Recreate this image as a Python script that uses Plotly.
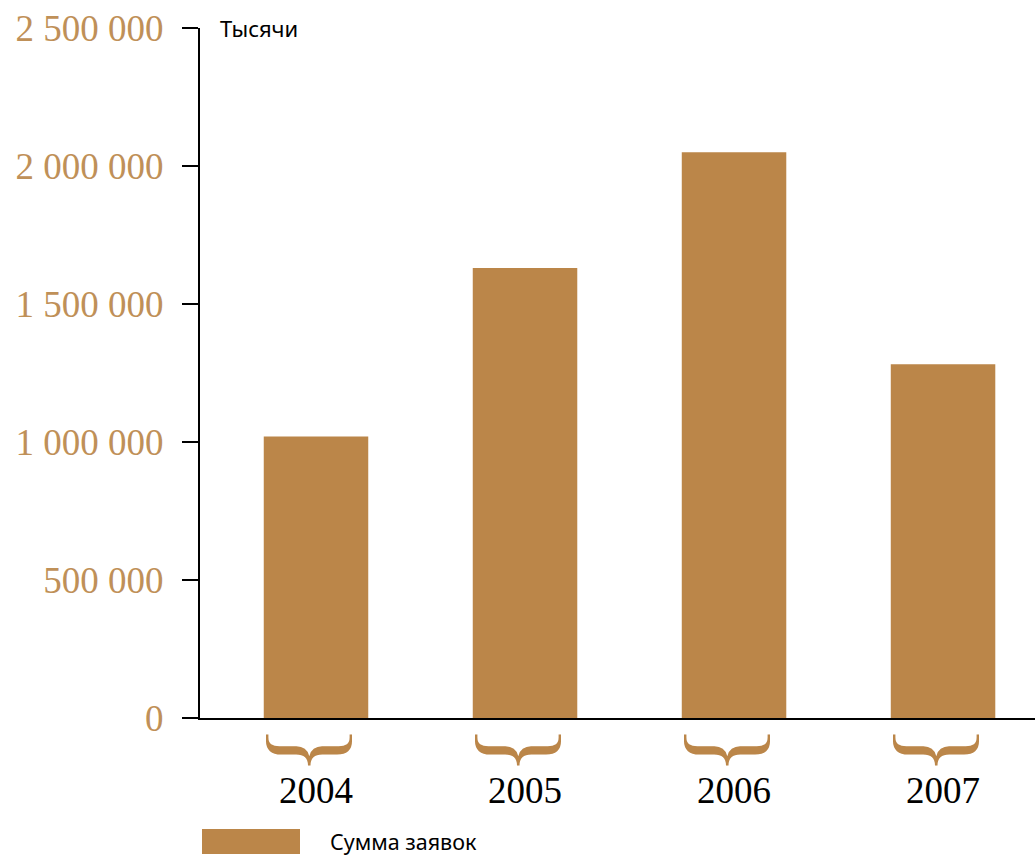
import plotly.graph_objects as go

years = ["2004", "2005", "2006", "2007"]
values = [1020000, 1630000, 2050000, 1282000]
y_tickvals = [0, 500000, 1000000, 1500000, 2000000, 2500000]
y_ticktext = ["0", "500 000", "1 000 000", "1 500 000", "2 000 000", "2 500 000"]
series_name = "Сумма заявок"
unit_label = "Тысячи"

BAR = "#BB8649"
TICK = "#BF9058"
SERIF = "Liberation Serif, Times New Roman, serif"
SANS = "Noto Sans, Open Sans, sans-serif"

fig = go.Figure()
fig.add_trace(go.Bar(x=list(range(len(years))), y=values, marker=dict(color=BAR, line=dict(width=0)),
                     name=series_name, showlegend=False))

ann = []
for i, yr in enumerate(years):
    ann.append(dict(x=i, y=0, xref="x", yref="paper", text="}", textangle=90, showarrow=False,
                    yshift=-32, yanchor="middle", xanchor="center",
                    font=dict(family=SERIF, size=104, color=BAR)))
    ann.append(dict(x=i, y=0, xref="x", yref="paper", text=yr, showarrow=False,
                    yshift=-72, yanchor="middle", xanchor="center",
                    font=dict(family=SERIF, size=37, color="black")))
ann.append(dict(x=0, y=1, xref="paper", yref="paper", text=unit_label, showarrow=False,
                xanchor="left", yanchor="middle", xshift=18,
                font=dict(family=SANS, size=22, color="black")))
ann.append(dict(x=129 / 835, y=0, xref="paper", yref="paper", text=series_name, showarrow=False,
                xanchor="left", yanchor="middle", yshift=-123, borderpad=0,
                font=dict(family=SANS, size=21.5, color="black")))

fig.add_shape(type="rect", xref="paper", yref="paper", x0=2 / 835, x1=100 / 835,
              y0=-111 / 690, y1=-136 / 690, fillcolor=BAR, line=dict(width=0))

fig.update_layout(
    width=1035, height=856,
    margin=dict(l=200, r=0, t=28, b=138),
    paper_bgcolor="white", plot_bgcolor="white",
    bargap=0.5,
    annotations=ann,
    xaxis=dict(range=[-0.555, 3.44], showticklabels=False, ticks="", showgrid=False, zeroline=False,
               showline=True, linecolor="black", linewidth=2),
    yaxis=dict(range=[0, 2500000], tickvals=y_tickvals, ticktext=y_ticktext, ticks="outside",
               ticklen=16, tickwidth=1.5, tickcolor="black", showgrid=False, zeroline=False,
               showline=True, linecolor="black", linewidth=2, ticklabelstandoff=11,
               tickfont=dict(family=SERIF, size=37, color=TICK)),
)

fig.write_html("out.html")
